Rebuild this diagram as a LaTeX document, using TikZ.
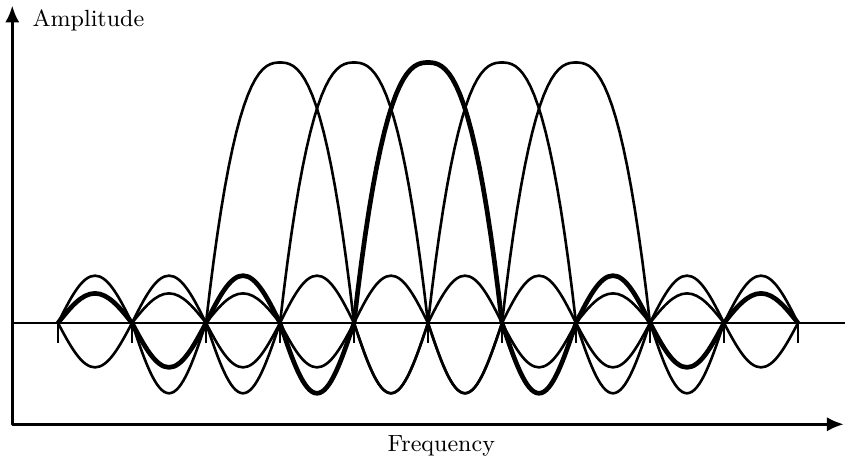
\documentclass[tikz,border=0pt]{standalone}
\usepackage{tikz}
\usetikzlibrary{arrows.meta}

\begin{document}
\begin{tikzpicture}[line join=round,
    every node/.style={font=\fontsize{9pt}{11pt}\selectfont, inner sep=0pt},
    axis/.style={line width=1.1pt, {Latex[length=6.5pt,width=5.5pt]}-{Latex[length=6.5pt,width=5.5pt]}},
    carrier/.style={line width=1pt},
    carrier hl/.style={line width=1.8pt}]
  \useasboundingbox (-0.784,-1.838) rectangle (10.676,4.365);

  % axes and labels
  \coordinate (origin) at (-0.618,-1.369);
  \coordinate (ytip) at (-0.618,4.29);
  \coordinate (xtip) at (10.62,-1.369);
  \draw[axis] (ytip) -- (origin) -- (xtip);
  \node[anchor=base west] (amp) at (-0.35,4.01) {Amplitude};
  \node[anchor=base] (freq) at (5.18,-1.74) {Frequency};

  % zero line with ticks
  \coordinate (b0) at (-0.618,0);
  \coordinate (b1) at (10.64,0);
  \draw[line width=0.9pt] (b0) -- (b1);
  \foreach \n in {0,...,10} \draw[line width=0.9pt] (\n,0) -- (\n,-0.27);

  % subcarrier at 3
  \draw[carrier] (0,0) sin (0.5,0.64) cos (1,0) sin (1.5,-0.95) cos (2,0)
    -- plot[domain=-1:1, samples=40] ({3+\x},{3.52*(1-sqrt(abs(\x))*\x*\x)})
    sin (4.5,-0.95) cos (5,0) sin (5.5,0.64) cos (6,0) sin (6.5,-0.6) cos (7,0)
    sin (7.5,0.4) cos (8,0);

  % subcarrier at 4
  \draw[carrier] (0,0) sin (0.5,-0.6) cos (1,0) sin (1.5,0.64) cos (2,0)
    sin (2.5,-0.95) cos (3,0)
    -- plot[domain=-1:1, samples=40] ({4+\x},{3.52*(1-sqrt(abs(\x))*\x*\x)})
    sin (5.5,-0.95) cos (6,0) sin (6.5,0.64) cos (7,0) sin (7.5,-0.6) cos (8,0)
    sin (8.5,0.4) cos (9,0);

  % subcarrier at 6
  \draw[carrier] (1,0) sin (1.5,0.4) cos (2,0) sin (2.5,-0.6) cos (3,0)
    sin (3.5,0.64) cos (4,0) sin (4.5,-0.95) cos (5,0)
    -- plot[domain=-1:1, samples=40] ({6+\x},{3.52*(1-sqrt(abs(\x))*\x*\x)})
    sin (7.5,-0.95) cos (8,0) sin (8.5,0.64) cos (9,0) sin (9.5,-0.6) cos (10,0);

  % subcarrier at 7
  \draw[carrier] (2,0) sin (2.5,0.4) cos (3,0) sin (3.5,-0.6) cos (4,0)
    sin (4.5,0.64) cos (5,0) sin (5.5,-0.95) cos (6,0)
    -- plot[domain=-1:1, samples=40] ({7+\x},{3.52*(1-sqrt(abs(\x))*\x*\x)})
    sin (8.5,-0.95) cos (9,0) sin (9.5,0.64) cos (10,0);

  % subcarrier at 5, highlighted
  \draw[carrier hl] (0,0) sin (0.5,0.4) cos (1,0) sin (1.5,-0.6) cos (2,0)
    sin (2.5,0.64) cos (3,0) sin (3.5,-0.95) cos (4,0)
    -- plot[domain=-1:1, samples=40] ({5+\x},{3.52*(1-sqrt(abs(\x))*\x*\x)})
    sin (6.5,-0.95) cos (7,0) sin (7.5,0.64) cos (8,0) sin (8.5,-0.6) cos (9,0)
    sin (9.5,0.4) cos (10,0);
\end{tikzpicture}
\end{document}
